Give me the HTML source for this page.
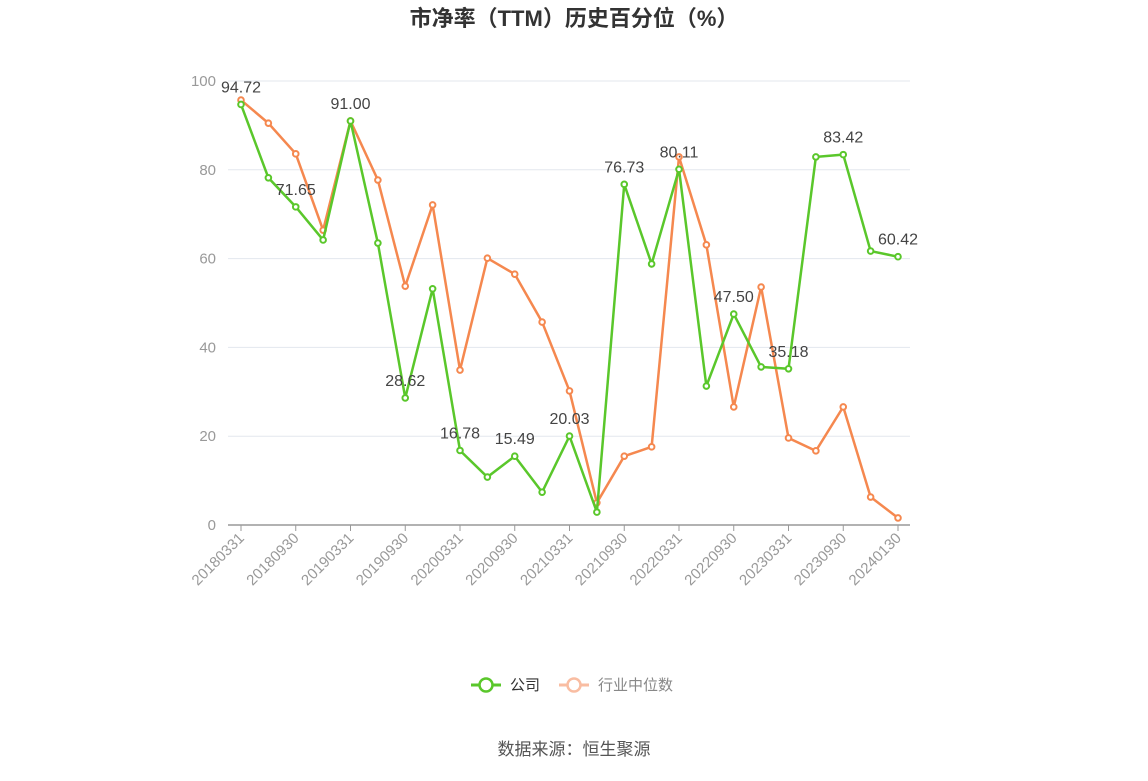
<!DOCTYPE html>
<html><head><meta charset="utf-8">
<style>
body{margin:0;background:#fff;width:1148px;height:776px;overflow:hidden;font-family:"Liberation Sans","Noto Sans CJK SC",sans-serif;}
svg text{font-family:"Liberation Sans","Noto Sans CJK SC",sans-serif;}
</style></head>
<body>
<svg id="chart" width="1148" height="776" xmlns="http://www.w3.org/2000/svg">
<text x="574" y="26" text-anchor="middle" font-size="22" font-weight="bold" fill="#333">市净率（TTM）历史百分位（%）</text>
<g id="grid"></g><g id="axes"></g><g id="series"></g>
<g>
<line x1="471" y1="685" x2="501" y2="685" stroke="#5ac72b" stroke-width="3"/>
<circle cx="486" cy="685" r="6.5" fill="#fff" stroke="#5ac72b" stroke-width="2.5"/>
<text x="510" y="690" font-size="15" fill="#333">公司</text>
<line x1="559" y1="685" x2="589" y2="685" stroke="#f9bda2" stroke-width="3"/>
<circle cx="574" cy="685" r="6.5" fill="#fff" stroke="#f9bda2" stroke-width="2.5"/>
<text x="598" y="690" font-size="15" fill="#888">行业中位数</text>
</g>
<text x="574" y="755" text-anchor="middle" font-size="17" fill="#555">数据来源：恒生聚源</text>
</svg>
<script>
const categories=["20180331","20180630","20180930","20181231","20190331","20190630","20190930","20191231","20200331","20200630","20200930","20201231","20210331","20210630","20210930","20211231","20220331","20220630","20220930","20221231","20230331","20230630","20230930","20231231","20240130"];
const companyValues=[94.72,78.2,71.65,64.2,91.00,63.5,28.62,53.2,16.78,10.8,15.49,7.4,20.03,2.9,76.73,58.8,80.11,31.3,47.50,35.6,35.18,82.9,83.42,61.7,60.42];
const industryValues=[95.7,90.5,83.6,66.4,91.0,77.7,53.8,72.1,34.9,60.1,56.5,45.7,30.2,5.0,15.5,17.6,82.9,63.1,26.6,53.6,19.6,16.7,26.6,6.3,1.6];
const yTicks=[0,20,40,60,80,100];
const NS="http://www.w3.org/2000/svg";
const x0=241,x1=898,yb=525,yt=81;
function xs(i){return x0+(x1-x0)*i/(categories.length-1);}
function ys(v){return yb-(yb-yt)*v/100;}
function mk(tag,attrs,parent){const e=document.createElementNS(NS,tag);for(const k in attrs)e.setAttribute(k,attrs[k]);parent.appendChild(e);return e;}
const grid=document.getElementById('grid'),axes=document.getElementById('axes'),ser=document.getElementById('series');
yTicks.forEach(t=>{
  if(t>0){const l=mk('line',{x1:228,x2:910,y1:ys(t),y2:ys(t),stroke:'#e3e7ee','stroke-width':1},grid);
  
  }
  const tx=mk('text',{x:216,y:ys(t)+5,'text-anchor':'end','font-size':15,fill:'#999'},axes);
  tx.textContent=t;
  
  
});
const ax=mk('line',{x1:228,x2:910,y1:yb,y2:yb,stroke:'#999','stroke-width':1.5},axes);


categories.forEach((c,i)=>{
  if(i%2)return;
  const x=xs(i);
  mk('line',{x1:x,x2:x,y1:yb,y2:yb+6,stroke:'#999'},axes);
  const t=mk('text',{x:x+4,y:yb+14,'text-anchor':'end','font-size':15,fill:'#999',transform:`rotate(-45 ${x+4} ${yb+14})`},axes);
  t.textContent=c;
  
  
});
function drawSeries(vals,color,name,labels){
  const p=mk('polyline',{points:vals.map((v,i)=>xs(i)+','+ys(v)).join(' '),fill:'none',stroke:color,'stroke-width':2.5},ser);
  
  
  vals.forEach((v,i)=>{
    const c=mk('circle',{cx:xs(i),cy:ys(v),r:2.8,fill:'#fff',stroke:color,'stroke-width':2},ser);
    
    
    if(labels&&i%2===0){
      const t=mk('text',{x:xs(i),y:ys(v)-12,'text-anchor':'middle','font-size':16,fill:'#444'},ser);
      t.textContent=v.toFixed(2);
      
      
    }
  });
}
drawSeries(industryValues,'#f5884f','industry',false);
drawSeries(companyValues,'#5ac72b','company',true);
</script>
</body></html>
